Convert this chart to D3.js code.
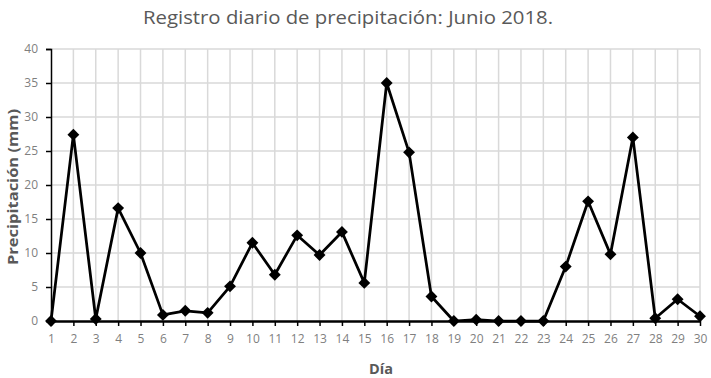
<!DOCTYPE html>
<html><head><meta charset="utf-8">
<script src="https://cdn.jsdelivr.net/npm/d3@7"></script>
<style>body{margin:0;background:#fff}</style>
</head><body><svg id="c" width="711" height="378"></svg>
<script>
const days = d3.range(1, 31);
const precip = [0, 27.4, 0.3, 16.6, 10.0, 0.9, 1.5, 1.2, 5.1, 11.5, 6.8, 12.6, 9.7, 13.1, 5.6, 35.0, 24.8, 3.6, 0, 0.2, 0, 0, 0, 8.0, 17.6, 9.8, 27.0, 0.4, 3.2, 0.7];
const yTicks = [0, 5, 10, 15, 20, 25, 30, 35, 40];
const title = "Registro diario de precipitación: Junio 2018.";
const xTitle = "Día";
const yTitle = "Precipitación (mm)";

const svg = d3.select("#c");
const font = "'Open Sans', sans-serif";
const x = d3.scaleLinear().domain([1, 30]).range([51, 700]);
const y = d3.scaleLinear().domain([0, 40]).range([321, 49]);

// grid
svg.append("g").selectAll("line").data(yTicks.slice(1)).join("line")
  .attr("x1", x(1)).attr("x2", x(30)).attr("y1", d => y(d)).attr("y2", d => y(d))
  .attr("stroke", "#d9d9d9").attr("stroke-width", 1.5);
svg.append("g").selectAll("line").data(days.slice(1)).join("line")
  .attr("x1", d => x(d)).attr("x2", d => x(d)).attr("y1", y(0)).attr("y2", y(40))
  .attr("stroke", "#d9d9d9").attr("stroke-width", 1.5);

// y axis
const ya = svg.append("g").attr("transform", `translate(${x(1)},0)`)
  .call(d3.axisLeft(y).tickValues(yTicks).tickSize(5).tickPadding(8));
ya.select(".domain").attr("stroke", "#000").attr("stroke-width", 1.5);
ya.selectAll(".tick line").attr("stroke", "#000").attr("stroke-width", 1.5);
ya.selectAll("text").attr("font-family", font).attr("font-size", 12).attr("fill", "#7f7f7f");

// x axis
const xa = svg.append("g").attr("transform", `translate(0,${y(0)})`)
  .call(d3.axisBottom(x).tickValues(days).tickFormat(d3.format("d")).tickSize(5).tickPadding(8).tickSizeOuter(0));
xa.select(".domain").attr("stroke", "#000").attr("stroke-width", 2.5);
xa.selectAll(".tick line").attr("stroke", "#000").attr("stroke-width", 1.5);
xa.selectAll("text").attr("font-family", font).attr("font-size", 12).attr("fill", "#7f7f7f");

// line
const pts = days.map((d, i) => [d, precip[i]]);
svg.append("path").datum(pts)
  .attr("fill", "none").attr("stroke", "#000").attr("stroke-width", 2.75).attr("stroke-linejoin", "round")
  .attr("d", d3.line().x(d => x(d[0])).y(d => y(d[1])));
svg.append("g").selectAll("path").data(pts).join("path")
  .attr("transform", d => `translate(${x(d[0])},${y(d[1])})`)
  .attr("d", d3.symbol(d3.symbolDiamond2, 90))
  .attr("fill", "#000");

// titles
svg.append("text").attr("x", 348).attr("y", 24).attr("text-anchor", "middle")
  .attr("font-family", font).attr("font-size", 19).attr("fill", "#595959")
  .attr("textLength", 410).attr("lengthAdjust", "spacingAndGlyphs").text(title);
svg.append("text").attr("x", 381).attr("y", 374).attr("text-anchor", "middle")
  .attr("font-family", font).attr("font-size", 14.5).attr("font-weight", "bold").attr("fill", "#595959").text(xTitle);
svg.append("text").attr("transform", "translate(18,187) rotate(-90)").attr("text-anchor", "middle")
  .attr("font-family", font).attr("font-size", 14.5).attr("font-weight", "bold").attr("fill", "#595959")
  .attr("textLength", 156).attr("lengthAdjust", "spacingAndGlyphs").text(yTitle);
</script></body></html>
